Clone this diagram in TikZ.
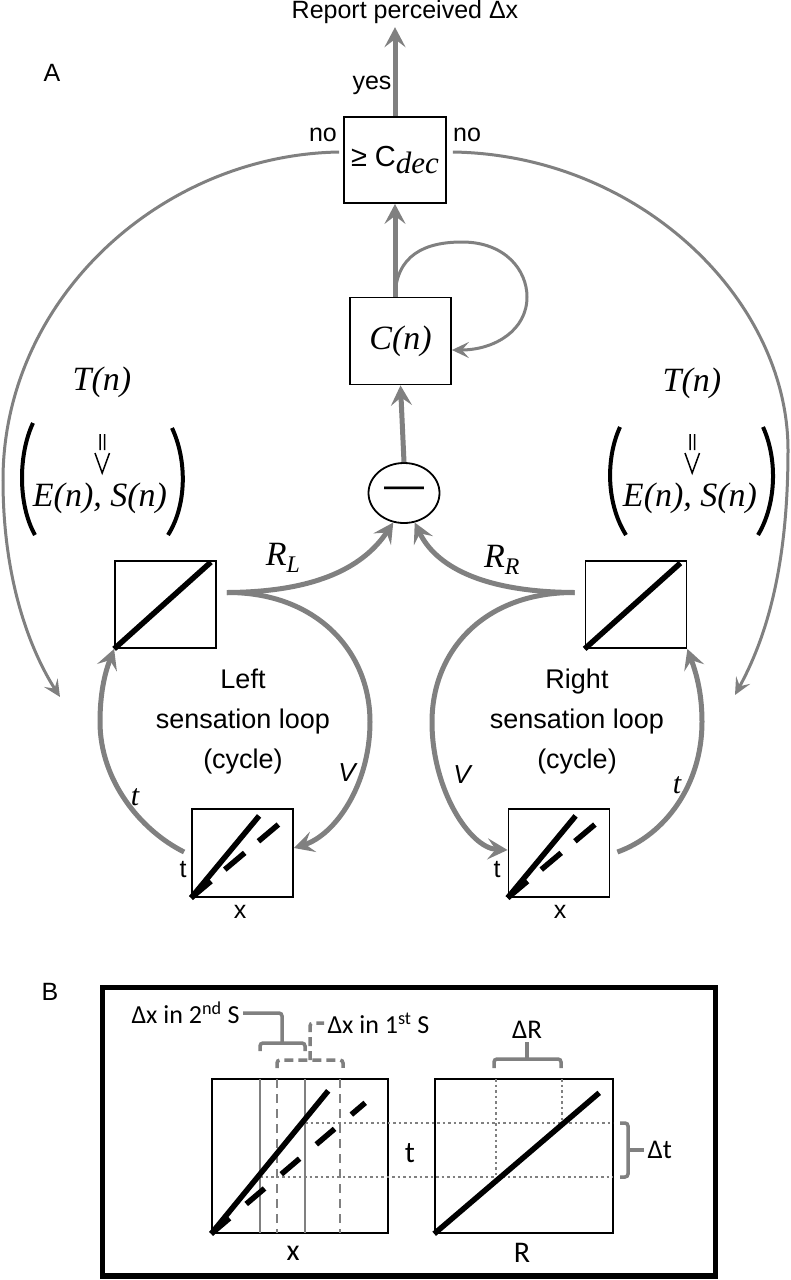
\documentclass[tikz,border=0pt]{standalone}
\usepackage{fontspec}
\setmainfont{Liberation Sans}
\newfontfamily\tnr{Liberation Serif}
\newfontfamily\calib{Carlito}
\usetikzlibrary{arrows.meta,shapes.geometric}
\definecolor{arrgray}{RGB}{128,128,128}

\begin{document}
\begin{tikzpicture}[x=1pt,y=1pt,
    box/.style={draw=black,line width=1.8pt,inner sep=0pt,minimum width=101pt,minimum height=87pt},
    plotbox/.style={draw=black,line width=1.6pt,inner sep=0pt},
    lab/.style={font=\fontsize{25}{30}\selectfont},
    looptext/.style={font=\fontsize{27}{40}\selectfont,align=center},
    ital/.style={font=\tnr\itshape\fontsize{34}{40}\selectfont},
    blab/.style={font=\calib\fontsize{30}{32}\selectfont},
    bdelta/.style={font=\calib\fontsize{27}{30}\selectfont},
    bsmall/.style={font=\calib\fontsize{26}{28}\selectfont},
    mainarrow/.style={draw=arrgray,line width=5pt,-{Stealth[length=20pt,width=21pt,inset=8pt]}},
    thinarrow/.style={draw=arrgray,line width=3pt,-{Stealth[length=17pt,width=16pt,inset=7pt]}},
    thickline/.style={line width=5.5pt},
    dashline/.style={line width=5.5pt,dash pattern=on 26pt off 18pt},
    gline/.style={draw=arrgray,line width=2pt},
    gdash/.style={gline,dash pattern=on 9pt off 6pt},
    gdot/.style={draw=arrgray,line width=2.5pt,dash pattern=on 2.5pt off 3pt},
    brk/.style={draw=arrgray,line width=3.5pt,rounded corners=3pt},
    paren/.style={line width=4pt},
  ]
  \useasboundingbox (0,0) rectangle (791,-1280);

  % ---- A: decision part
  \node[lab] (panA) at (52,-73) {A};
  \node[lab] (report) at (405,-12) {Report perceived Δx};
  \node[box,minimum width=102pt,minimum height=86pt] (dec) at (395,-160)
    {\fontsize{29}{30}\selectfont ≥ C\raisebox{-7pt}{\tnr\itshape\fontsize{31}{30}\selectfont dec}};
  \node[lab] (yes) at (372,-85) {yes};
  \node[lab] (nol) at (323,-135) {no};
  \node[lab] (nor) at (467,-135) {no};
  \node[box] (cn) at (400.5,-341) {\tnr\itshape\fontsize{34}{36}\selectfont C(n)};
  \node[draw=black,line width=1.8pt,ellipse,minimum width=71pt,minimum height=60pt,inner sep=0pt] (minus) at (404,-493)
    {\fontsize{40}{40}\selectfont —};

  \draw[mainarrow] (dec.north) -- (dec.north |- report.south);
  \draw[mainarrow] (dec.south |- cn.north) -- (dec.south);
  \draw[mainarrow] (minus.north) -- (cn.south);
  \draw[thinarrow] (dec.south |- cn.north) .. controls (396,-255) and (425,-242) .. (462,-242)
    .. controls (505,-242) and (527,-270) .. (527,-297)
    .. controls (527,-330) and (495,-350) .. ([yshift=-9pt]cn.east);

  % outer "no" arcs
  \coordinate (lin) at (60,-697);
  \coordinate (rin) at (735,-695);
  \draw[thinarrow] ([xshift=-4pt,yshift=8pt]dec.west) .. controls (160,-155) and (3,-300) .. (3,-480)
    .. controls (3,-580) and (30,-650) .. (lin);
  \draw[thinarrow] ([xshift=6pt,yshift=8pt]dec.east) .. controls (640,-155) and (788,-300) .. (788,-450)
    .. controls (788,-570) and (765,-640) .. (rin);

  % T(n) -> E(n), S(n)
  \node[ital] (tl) at (102,-382) {T(n)};
  \node[ital] (esl) at (100,-498) {E(n), S(n)};
  \node[ital] (tr) at (692,-383) {T(n)};
  \node[ital] (esr) at (690,-498) {E(n), S(n)};
  \draw[line width=1.5pt] (100,-434) -- (100,-450) (104.5,-434) -- (104.5,-450) (95,-453) -- (102.2,-473) -- (109.5,-453);
  \draw[line width=1.5pt] (690,-434) -- (690,-450) (694.5,-434) -- (694.5,-450) (685,-453) -- (692.2,-473) -- (699.5,-453);
  \draw[paren] (33,-423) .. controls (18,-455) and (18,-505) .. (35,-535);
  \draw[paren] (172,-428) .. controls (187,-460) and (187,-505) .. (168,-535);
  \draw[paren] (620,-427) .. controls (605,-460) and (607,-505) .. (626,-535);
  \draw[paren] (763,-427) .. controls (778,-460) and (776,-505) .. (758,-535);

  % ---- sensation loops
  \node[box] (rl) at (165.5,-604.5) {};
  \node[box] (rr) at (636,-604.5) {};
  \node[box,minimum height=88pt] (xtl) at (242.5,-853) {};
  \node[box,minimum height=88pt] (xtr) at (559,-853) {};
  \draw[thickline] (rl.south west) -- ([xshift=-6pt,yshift=-2pt]rl.north east);
  \draw[thickline] (rr.south west) -- ([xshift=-7pt,yshift=-3pt]rr.north east);
  \draw[thickline] (xtl.south west) -- +(68,82);
  \draw[dashline] (xtl.south west) -- +(88,74);
  \draw[thickline] (xtr.south west) -- +(68,82);
  \draw[dashline] (xtr.south west) -- +(88,74);

  \coordinate (lsplit) at ([xshift=10pt,yshift=12pt]rl.east);
  \coordinate (rsplit) at ([xshift=-10pt,yshift=12pt]rr.west);
  \draw[mainarrow] (lsplit) .. controls (320,-592) and (365,-565) .. (minus.250);
  \draw[mainarrow] (rsplit) .. controls (480,-592) and (435,-565) .. (minus.290);
  \draw[mainarrow] (lsplit) .. controls (315,-592) and (370,-650) .. (370,-722)
    .. controls (370,-785) and (335,-835) .. ([yshift=5pt]xtl.east);
  \draw[mainarrow] ([xshift=-7pt,yshift=1pt]xtl.west) .. controls (140,-830) and (100,-780) .. (100,-722)
    .. controls (100,-685) and (108,-665) .. (rl.south west);
  \draw[mainarrow] (rsplit) .. controls (485,-592) and (432,-650) .. (432,-722)
    .. controls (432,-790) and (470,-848) .. ([yshift=3pt]xtr.west);
  \draw[mainarrow] ([xshift=7pt,yshift=1pt]xtr.east) .. controls (665,-835) and (702,-785) .. (702,-722)
    .. controls (702,-690) and (695,-670) .. (rr.south east);

  \node[ital] (rlab) at (283,-558) {R\textsubscript{L}};
  \node[ital] (rrab) at (502,-560) {R\textsubscript{R}};
  \node[font=\itshape\fontsize{26}{30}\selectfont] (vl) at (347,-773) {V};
  \node[font=\itshape\fontsize{26}{30}\selectfont] (vr) at (462,-775) {V};
  \node[font=\tnr\itshape\fontsize{30}{30}\selectfont] (tll) at (135,-797) {t};
  \node[font=\tnr\itshape\fontsize{30}{30}\selectfont] (trl) at (677,-785) {t};
  \node[looptext] (lloop) at (243,-722) {Left\\sensation loop\\(cycle)};
  \node[looptext] (rloop) at (577,-722) {Right\\sensation loop\\(cycle)};
  \node[lab] (tl2) at (183,-870) {t};
  \node[lab] (xl2) at (240,-912) {x};
  \node[lab] (tr2) at (497,-870) {t};
  \node[lab] (xr2) at (560,-912) {x};

  % ---- B
  \node[lab] (panB) at (50,-992) {B};
  \draw[line width=5.5pt] (102.5,-987.5) rectangle (715.5,-1276);
  \node[plotbox,minimum width=176pt,minimum height=154pt] (xtb) at (300,-1156) {};
  \node[plotbox,minimum width=178pt,minimum height=154pt] (rtb) at (524,-1156) {};
  \draw[gline] (260,-1079) -- (260,-1233) (305,-1079) -- (305,-1233);
  \draw[gdash] (277,-1079) -- (277,-1233) (340,-1079) -- (340,-1233);
  \draw[gdot] (305,-1123) -- (613,-1123) (260,-1177) -- (613,-1177);
  \draw[gdot] (496,-1079) -- (496,-1177) (562,-1079) -- (562,-1123);
  \draw[thickline] (xtb.south west) -- +(117,143);
  \draw[line width=5.5pt,dash pattern=on 24pt off 22pt] (xtb.south west) -- +(154,131);
  \draw[thickline] (rtb.south west) -- +(165,141);

  \node[bsmall,anchor=east] (dx2) at (243,-1013) {Δx in 2\textsuperscript{nd} S};
  \node[bsmall,anchor=west] (dx1) at (324,-1023) {Δx in 1\textsuperscript{st} S};
  \node[bdelta] (dr) at (527,-1030) {ΔR};
  \node[bdelta,anchor=west] (dt) at (644,-1150) {Δt};
  \node[blab] (tb) at (410,-1153) {t};
  \node[blab] (xb) at (293,-1253) {x};
  \node[blab] (rb) at (522,-1253) {R};

  \draw[brk] (260,-1051) -- (260,-1043) -- (305,-1043) -- (305,-1051);
  \draw[brk] (282,-1043) |- (dx2.east);
  \draw[brk,dash pattern=on 9pt off 5pt] (277,-1068) -- (277,-1060) -- (343,-1060) -- (343,-1068);
  \draw[brk,dash pattern=on 9pt off 5pt] (310,-1060) |- (dx1.west);
  \draw[brk] (494,-1068) -- (494,-1059) -- (561,-1059) -- (561,-1068);
  \draw[brk] (527,-1059) -- (dr.south);
  \draw[brk] (620,-1123) -- (628,-1123) -- (628,-1177) -- (620,-1177);
  \draw[brk] (628,-1150) -- (dt.west);
\end{tikzpicture}
\end{document}
